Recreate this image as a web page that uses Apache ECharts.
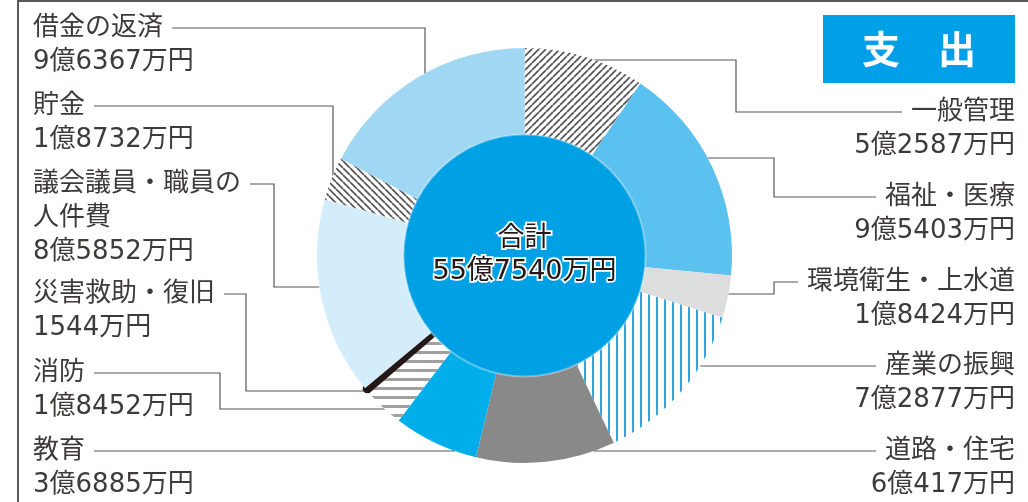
<!DOCTYPE html>
<html>
<head>
<meta charset="utf-8">
<script src="https://cdn.jsdelivr.net/npm/echarts@6/dist/echarts.min.js"></script>
<style>
  html, body { margin: 0; padding: 0; background: #ffffff; }
  #chart { width: 1028px; height: 502px; }
</style>
</head>
<body>
<div id="chart"></div>
<script>
// Expenditure items, clockwise from 12 o'clock (amounts in 万円)
const categories = [
  '一般管理',
  '福祉・医療',
  '環境衛生・上水道',
  '産業の振興',
  '道路・住宅',
  '教育',
  '消防',
  '災害救助・復旧',
  '議会議員・職員の\n人件費',
  '貯金',
  '借金の返済'
];
const amounts = [52587, 95403, 18424, 72877, 60417, 36885, 18452, 1544, 85852, 18732, 96367];
const totalName = '合計';
const titleText = '支　出';

// ---- geometry & styling ----
const CX = 524.5, CY = 255.5, R_OUT = 207.5, R_CENTER = 121;
const FONT = "'DejaVu Sans', 'Noto Sans CJK JP', sans-serif";
const CJK_FONT = "'Noto Sans CJK JP', sans-serif";
const FONT_SIZE = 26, LINE_H = 34;
const TEXT_LEFT = 33, TEXT_RIGHT = 1015, GAP = 9;
const INK = '#3e3a39', RULE = '#595757';

function yen(v) {
  const oku = Math.floor(v / 10000), man = v % 10000;
  return (oku ? oku + '億' : '') + man + '万円';
}

// tiled fills for the hatched / striped slices
function pattern(kind, color, period, width) {
  const c = document.createElement('canvas');
  c.width = period; c.height = period;
  const g = c.getContext('2d');
  g.fillStyle = '#ffffff';
  g.fillRect(0, 0, period, period);
  g.fillStyle = color; g.strokeStyle = color; g.lineWidth = width;
  if (kind === 'h') {
    g.fillRect(0, 0, period, width);
  } else if (kind === 'v') {
    g.fillRect(0, 0, width, period);
  } else {
    g.beginPath();
    [-period, 0, period].forEach(function (o) {
      if (kind === '/') { g.moveTo(o, period); g.lineTo(o + period, 0); }
      else { g.moveTo(o, 0); g.lineTo(o + period, period); }
    });
    g.stroke();
  }
  return { image: c, repeat: 'repeat' };
}

const sliceFills = [
  pattern('/', '#5a5858', 7, 1.8),
  '#5bc1ee',
  '#dcdddd',
  pattern('v', '#2ea7e0', 8, 2),
  '#898989',
  '#00aee9',
  pattern('h', '#a0a0a0', 9, 3),
  '#231815',
  '#d4edfb',
  pattern('\\', '#5a5858', 7, 1.8),
  '#a0d8f4'
];

// label anchors and elbow points of the leader lines
const slots = [
  { side: 'right', y: 112, via: [[736, 112], [736, 60]], end: 'h' },
  { side: 'right', y: 197, via: [[774, 197], [774, 158]], end: 'h' },
  { side: 'right', y: 282, via: [[774, 282], [774, 294]], end: 'h' },
  { side: 'right', y: 366, via: [], end: 'h' },
  { side: 'right', y: 451, via: [], end: 'h' },
  { side: 'left', y: 451, via: [], end: 'h' },
  { side: 'left', y: 373, via: [[220, 373], [220, 409]], end: 'h' },
  { side: 'left', y: 294, via: [[246, 294], [246, 391]], end: 'h' },
  { side: 'left', y: 184, via: [[274, 184], [274, 287]], end: 'h' },
  { side: 'left', y: 106, via: [[333, 106]], end: 'v' },
  { side: 'left', y: 28, via: [[425, 28]], end: 'v' }
];

const measureCtx = document.createElement('canvas').getContext('2d');
measureCtx.font = FONT_SIZE + 'px ' + FONT;
function textWidth(s) { return measureCtx.measureText(s).width; }

function edgeX(y, side) {
  const d = Math.sqrt(Math.max(0, R_OUT * R_OUT - (y - CY) * (y - CY)));
  return side === 'right' ? CX + d : CX - d;
}
function edgeY(x) {
  return CY - Math.sqrt(Math.max(0, R_OUT * R_OUT - (x - CX) * (x - CX)));
}

const total = amounts.reduce(function (a, b) { return a + b; }, 0);

const pieData = categories.map(function (name, i) {
  const item = { name: name, value: amounts[i], itemStyle: { color: sliceFills[i] } };
  // the very small disaster-relief slice gets an outline so it stays visible
  if (i === 7) item.itemStyle = { color: sliceFills[i], borderColor: '#231815', borderWidth: 6, borderJoin: 'bevel' };
  return item;
});

const chart = echarts.init(document.getElementById('chart'), null, { renderer: 'canvas' });
chart.setOption({
  animation: false,
  backgroundColor: '#ffffff',
  title: {
    text: titleText,
    left: 823, top: 15,
    backgroundColor: '#00a0e9',
    padding: [15, 39],
    textStyle: { color: '#ffffff', fontSize: 38, fontWeight: 'bold', lineHeight: 38, fontFamily: CJK_FONT }
  },
  graphic: [{
    type: 'polyline',
    silent: true,
    shape: { points: [[18, 502], [18, 1], [1028, 1]] },
    style: { stroke: RULE, lineWidth: 2, fill: null }
  }],
  series: [{
    type: 'pie',
    center: [CX, CY],
    radius: [R_CENTER - 4, R_OUT],
    startAngle: 90,
    clockwise: true,
    avoidLabelOverlap: false,
    silent: true,
    itemStyle: { borderWidth: 0 },
    label: {
      show: true,
      position: 'outside',
      overflow: 'none',
      formatter: function (p) { return p.name + '\n' + yen(p.value); },
      color: INK,
      fontSize: FONT_SIZE,
      lineHeight: LINE_H,
      fontFamily: FONT
    },
    labelLine: { show: true, lineStyle: { color: RULE, width: 1.2 } },
    labelLayout: function (p) {
      const s = slots[p.dataIndex];
      const firstLine = categories[p.dataIndex].split('\n')[0];
      const w = textWidth(firstLine);
      const startX = s.side === 'right' ? TEXT_RIGHT - w - GAP : TEXT_LEFT + w + GAP;
      const pts = [[startX, s.y]].concat(s.via.map(function (q) { return q.slice(); }));
      const last = pts[pts.length - 1];
      if (s.end === 'h') pts.push([edgeX(last[1], s.side), last[1]]);
      else pts.push([last[0], edgeY(last[0])]);
      return {
        x: s.side === 'right' ? TEXT_RIGHT : TEXT_LEFT,
        y: s.y - LINE_H / 2,
        align: s.side,
        verticalAlign: 'top',
        labelLinePoints: pts
      };
    },
    data: pieData
  }, {
    type: 'pie',
    center: [CX, CY],
    radius: [0, R_CENTER],
    silent: true,
    itemStyle: { color: '#00a0e4', borderColor: 'rgba(255,255,255,0.35)', borderWidth: 2 },
    label: {
      show: true,
      position: 'center',
      formatter: function (p) { return p.name + '\n' + yen(p.value); },
      color: '#231815',
      fontSize: 27,
      fontWeight: 'normal',
      lineHeight: 33,
      fontFamily: FONT,
      textBorderColor: '#ffffff',
      textBorderWidth: 3.5
    },
    labelLine: { show: false },
    data: [{ name: totalName, value: total }]
  }]
});
</script>
</body>
</html>
